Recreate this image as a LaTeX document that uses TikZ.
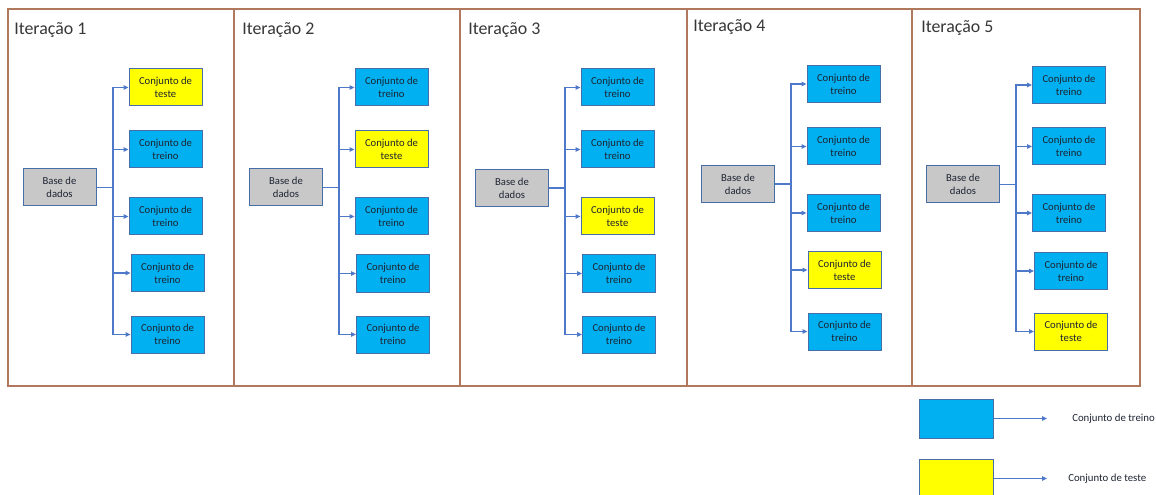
\documentclass[tikz,border=0pt]{standalone}
\usepackage{fontspec}
\setmainfont{Carlito}
\usetikzlibrary{arrows.meta}

\definecolor{framecol}{RGB}{176,120,92}
\definecolor{treinocol}{RGB}{0,176,240}
\definecolor{testecol}{RGB}{255,255,0}
\definecolor{basecol}{RGB}{200,200,200}
\definecolor{edgecol}{RGB}{72,110,170}
\definecolor{linkcol}{RGB}{78,120,200}
\definecolor{txtcol}{RGB}{30,36,50}
\definecolor{titlecol}{RGB}{55,55,55}

\tikzset{
  x=0.75pt, y=-0.75pt,
  anybox/.style={draw=edgecol, line width=0.75pt, minimum width=54.75pt,
    minimum height=27.75pt, inner sep=0pt, align=center, text=txtcol,
    font=\fontsize{8}{9.8}\selectfont},
  treino/.style={anybox, fill=treinocol},
  teste/.style={anybox, fill=testecol},
  basebox/.style={anybox, fill=basecol},
  conn/.style={draw=linkcol, line width=0.9pt},
  tip/.style={conn, -{Triangle[length=3.6pt,width=3.2pt]}},
  title/.style={anchor=base west, inner sep=0pt, text=titlecol,
    font=\fontsize{13.4}{15}\selectfont},
  legendtext/.style={anchor=west, inner sep=0pt, text=txtcol,
    font=\fontsize{8.1}{9.8}\selectfont},
  framepen/.style={draw=framecol, line width=1.1pt}
}

% One iteration: #1 number, #2 title position, #3 base position,
% #4 x of the branch line, #5 list of x/y/style/label for the five sets
\newcommand{\iteration}[5]{%
  \node[title] (t#1) at (#2) {Iteração #1};
  \node[basebox] (b#1) at (#3) {Base de\\dados};
  \coordinate (j#1) at (#4, 0 |- b#1.east);
  \draw[conn] (b#1.east) -- (j#1 |- b#1.east);
  \foreach \bx/\by/\st/\lb [count=\i] in {#5} {
    \node[\st] (s#1-\i) at (\bx,\by) {Conjunto de\\\lb};
    \draw[tip] (j#1 |- b#1.east) |- (s#1-\i.west);
  }%
}

\begin{document}
\begin{tikzpicture}
\useasboundingbox (0,0) rectangle (1156,495);

% panel frame and dividers
\draw[framepen] (8,9) rectangle (1140,386);
\foreach \dx in {234,460,687,912}
  \draw[framepen] (\dx,9) -- (\dx,386);

\iteration{1}{14,35}{59.5,187.5}{113}{%
  165.5/87.5/teste/teste, 165.5/149.5/treino/treino, 165.5/216.5/treino/treino,
  167.5/273/treino/treino, 167.5/334.5/treino/treino}

\iteration{2}{242,35}{286,187.5}{339}{%
  391.5/87.5/treino/treino, 391.5/149.5/teste/teste, 391.5/216.5/treino/treino,
  393/273.5/treino/treino, 393/334.5/treino/treino}

\iteration{3}{468,35}{512,188}{565}{%
  617.5/87.5/treino/treino, 617.5/149.5/treino/treino, 617.5/216.5/teste/teste,
  619/273.5/treino/treino, 619/334.5/treino/treino}

\iteration{4}{693,32}{738,184}{791}{%
  843.5/84/treino/treino, 843.5/146.5/treino/treino, 843.5/213/treino/treino,
  844.5/270/teste/teste, 844.5/331.5/treino/treino}

\iteration{5}{921,33}{963,184.5}{1016}{%
  1069/85/treino/treino, 1069/146.5/treino/treino, 1069/213/treino/treino,
  1071/271/treino/treino, 1071/331.5/teste/teste}

% legend
\node[anybox, fill=treinocol, minimum width=55.5pt, minimum height=29.25pt]
  (lg1) at (956,418.5) {};
\coordinate (la1) at (1047,418.5);
\draw[tip] (lg1.east) -- (la1);
\node[legendtext] (lt1) at (1072,418.5) {Conjunto de treino};

\node[anybox, fill=testecol, minimum width=55.5pt, minimum height=29.25pt]
  (lg2) at (956,478.5) {};
\coordinate (la2) at (1047,478.5);
\draw[tip] (lg2.east) -- (la2);
\node[legendtext] (lt2) at (1068,478.5) {Conjunto de teste};
\end{tikzpicture}
\end{document}
